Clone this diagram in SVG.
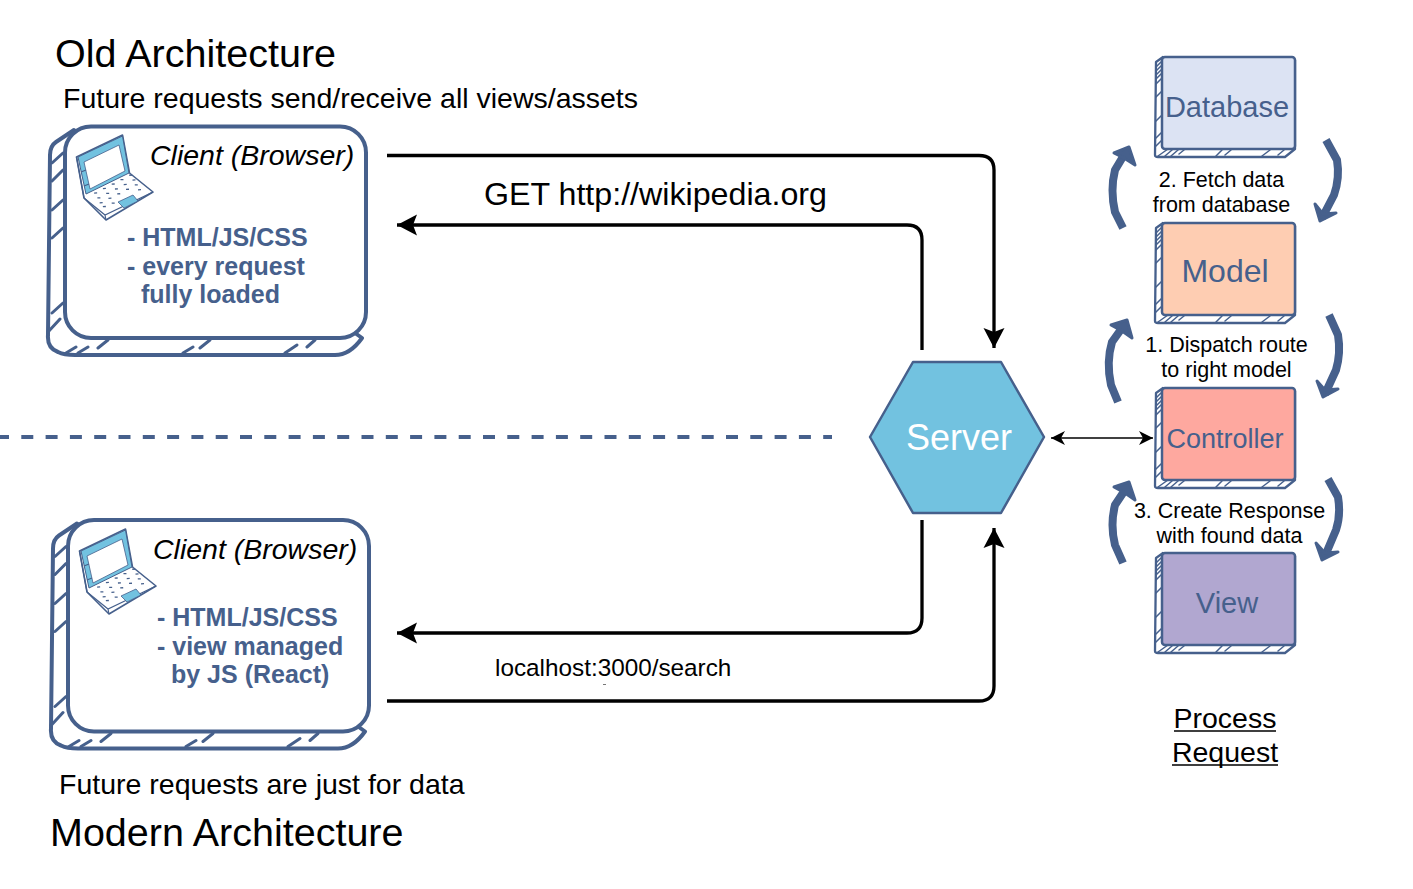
<svg xmlns="http://www.w3.org/2000/svg" width="1413" height="889" viewBox="0 0 1413 889">
<style>
text{font-family:"Liberation Sans",Arial,sans-serif;fill:#000}
.title{font-size:39.500px}
.sub{font-size:28.500px}
.cap{font-size:21.500px}
.cli{font-size:28.500px;font-style:italic}
.note{font-size:25px;font-weight:bold;fill:#46608c}
.name{fill:#46608c;text-anchor:middle}
.sk{fill:none;stroke:#46608c;stroke-linecap:round;stroke-linejoin:round}
.conn{fill:none;stroke:#000;stroke-width:3.300}
.stem{fill:none;stroke:#46608c;stroke-width:8;stroke-linejoin:round}
.barb{fill:#46608c;stroke:#46608c;stroke-width:3;stroke-linejoin:round}
.ul{fill:none;stroke:#000;stroke-width:1.500}
</style>
<defs>
<marker id="ah" markerUnits="userSpaceOnUse" markerWidth="24" markerHeight="22" refX="20" refY="11" orient="auto-start-reverse"><path d="M0 0.500L20 11L0 21.500L4 11Z" fill="#000"/></marker>
<marker id="ahs" markerUnits="userSpaceOnUse" markerWidth="16" markerHeight="14" refX="14" refY="7" orient="auto-start-reverse"><path d="M0 0L14 7L0 14L4 7Z" fill="#000"/></marker>
<g id="laptop">
<path d="M76.500 157L122.500 135L129.500 173L153 192L106 220L84 198Z" fill="#fff" stroke="#46608c" stroke-width="1.600" stroke-linejoin="round"/>
<path d="M78 157L122.500 136L129 173L86 194Z" fill="#72c2e0" stroke="#46608c" stroke-width="1"/>
<path d="M84 162L119 145L125 171L90 189Z" fill="#fff" stroke="#46608c" stroke-width="0.800"/>
<path d="M76.500 157L84 198M84 198L105 215L153 192M105 215L106 220M81 172L86 170M84 186L89 184" fill="none" stroke="#46608c" stroke-width="1.200"/>
<path d="M118 202L133 195L138 201L124 208Z" fill="#72c2e0" stroke="#46608c" stroke-width="0.800"/>
<path d="M94 192h3M103 188h3M112 184h3M121 180h3M130 176h3M97 197h3M106 193h3M115 189h3M124 185h3M133 181h3M99 202h3M108 198h3M117 194h3M126 190h3M135 186h3M102 206h3M111 203h3M138 191h3" fill="none" stroke="#46608c" stroke-width="1.300" transform="rotate(-3 115 190)"/>
</g>
<g id="clientshape">
<path class="sk" stroke-width="4" d="M74 130L56 142Q50 146 50 155L48 335Q47 348 58 352Q64 355 75 355L335 355Q350 355 362 338Z" style="fill:#fff"/>
<rect x="65" y="126.500" width="301" height="211.500" rx="26" ry="26" stroke="#46608c" stroke-width="4" fill="#fff"/>
<path class="sk" stroke-width="3" d="M52 163L63 153M52 181L63 170M52 210L63 200M52 238L63 228M52 313L63 303M48 332L60 319M66 353L76 347M78 353L88 347M98 348L108 340M183 353L193 347M200 348L210 340M285 353L297 345M307 347L315 340"/>
</g>
<g id="boxhatch">
<path class="sk" stroke-width="2.300" d="M1163 57L1156 62L1155 155Q1155 157 1158 157L1285 157L1295 149L1295 60L1162 60Z" style="fill:#fff"/>
<path class="sk" stroke-width="1.500" d="M1156 67L1162 61M1156 71L1162 65M1156 75L1162 69M1156 79L1162 73M1156 84L1162 78M1156 97L1162 91M1156 121L1162 115M1156 138L1162 132M1156 146L1162 140M1158 156L1168 149M1165 156L1172 150M1171 156L1178 150M1179 154L1184 150M1216 156L1222 150M1225 155L1231 150M1262 156L1270 150M1278 155L1284 150"/>
</g>
</defs>
<rect width="1413" height="889" fill="#fff"/>

<g id="connectors">
<path class="conn" marker-end="url(#ah)" d="M387 155.500H979Q994 155.500 994 170V348"/>
<path class="conn" marker-end="url(#ah)" d="M922 350V240Q922 225 907 225H397"/>
<path class="conn" marker-end="url(#ah)" d="M922 520V618Q922 633 907 633H397"/>
<path class="conn" marker-end="url(#ah)" d="M387 701H979Q994 701 994 686V528"/>
<path fill="none" stroke="#000" stroke-width="1.500" marker-start="url(#ahs)" marker-end="url(#ahs)" d="M1051 438H1153"/>
<path fill="none" stroke="#46608c" stroke-width="4" stroke-dasharray="12 12.300" stroke-dashoffset="3" d="M0 437H832"/>
</g>

<g id="swoops">
<path class="stem" d="M1123 228L1115 212Q1110 190 1115 170L1124 155"/>
<path class="barb" d="M1114 153L1129 147L1135 165L1124 158Z"/>
<path class="stem" d="M1326 140L1337 160Q1340 178 1334 195L1322 218"/>
<path class="barb" d="M1315 204L1320 221L1336 213L1323 214Z"/>
<path class="stem" d="M1118 402L1111 385Q1106 362 1112 342L1122 328"/>
<path class="barb" d="M1111 325L1127 320L1132 338L1122 331Z"/>
<path class="stem" d="M1329 315L1338 335Q1341 353 1336 370L1325 394"/>
<path class="barb" d="M1317 381L1323 397L1338 389L1325 390Z"/>
<path class="stem" d="M1123 563L1115 545Q1110 525 1115 505L1125 490"/>
<path class="barb" d="M1114 487L1129 482L1135 500L1125 493Z"/>
<path class="stem" d="M1328 479L1338 497Q1341 515 1336 530L1325 556"/>
<path class="barb" d="M1316 543L1322 560L1338 552L1325 553Z"/>
</g>

<g id="client-old">
<use href="#clientshape"/>
<use href="#laptop"/>
<text class="cli" x="150" y="165">Client (Browser)</text>
<text class="note" x="127" y="246">- HTML/JS/CSS</text>
<text class="note" x="127" y="275">- every request</text>
<text class="note" x="141" y="303">fully loaded</text>
</g>
<g id="client-modern">
<use href="#clientshape" transform="translate(3 393.500)"/>
<use href="#laptop" transform="translate(3 394)"/>
<text class="cli" x="153" y="559">Client (Browser)</text>
<text class="note" x="157" y="626">- HTML/JS/CSS</text>
<text class="note" x="157" y="655">- view managed</text>
<text class="note" x="171" y="683">by JS (React)</text>
</g>

<g id="server">
<path d="M913 362H1001L1044 437L1001 513H913L870 437Z" fill="#72c2e0" stroke="#46608c" stroke-width="2.500" stroke-linejoin="round"/>
<text x="959" y="449.500" font-size="36" text-anchor="middle" style="fill:#fff">Server</text>
</g>

<g id="database">
<use href="#boxhatch"/>
<rect x="1162" y="57" width="133" height="92" rx="3" fill="#dce3f3" stroke="#46608c" stroke-width="2.500"/>
<text class="name" x="1227" y="117" font-size="29">Database</text>
</g>
<g id="model">
<use href="#boxhatch" transform="translate(0 166)"/>
<rect x="1162" y="223" width="133" height="92" rx="3" fill="#fecdb2" stroke="#46608c" stroke-width="2.500"/>
<text class="name" x="1225" y="282" font-size="32">Model</text>
</g>
<g id="controller">
<use href="#boxhatch" transform="translate(0 331)"/>
<rect x="1162" y="388" width="133" height="92" rx="3" fill="#fea89f" stroke="#46608c" stroke-width="2.500"/>
<text class="name" x="1225" y="448" font-size="27">Controller</text>
</g>
<g id="view">
<use href="#boxhatch" transform="translate(0 496)"/>
<rect x="1162" y="553" width="133" height="92" rx="3" fill="#b1a7d0" stroke="#46608c" stroke-width="2.500"/>
<text class="name" x="1227" y="613" font-size="29">View</text>
</g>

<g id="labels">
<text class="title" x="55" y="67">Old Architecture</text>
<text class="sub" x="63" y="108">Future requests send/receive all views/assets</text>
<text x="484" y="205" font-size="32.200">GET http://wikipedia.org</text>
<text x="495" y="676" font-size="24.300">localhost:3000/search</text>
<text class="sub" x="59" y="794">Future requests are just for data</text>
<text class="title" x="50" y="846">Modern Architecture</text>
<g class="cap" text-anchor="middle">
<text x="1221.500" y="187">2. Fetch data</text>
<text x="1221.500" y="212">from database</text>
<text x="1226.500" y="352">1. Dispatch route</text>
<text x="1226.500" y="377">to right model</text>
<text x="1229.500" y="518">3. Create Response</text>
<text x="1229.500" y="543">with found data</text>
<text x="1225" y="728" font-size="28.500">Process</text>
<text x="1225" y="762" font-size="28.500">Request</text>
</g>
<path class="ul" d="M1174 731H1276M1172 765H1278"/>
<path d="M603 684.500h3" stroke="#777" stroke-width="1"/>
</g>
</svg>
